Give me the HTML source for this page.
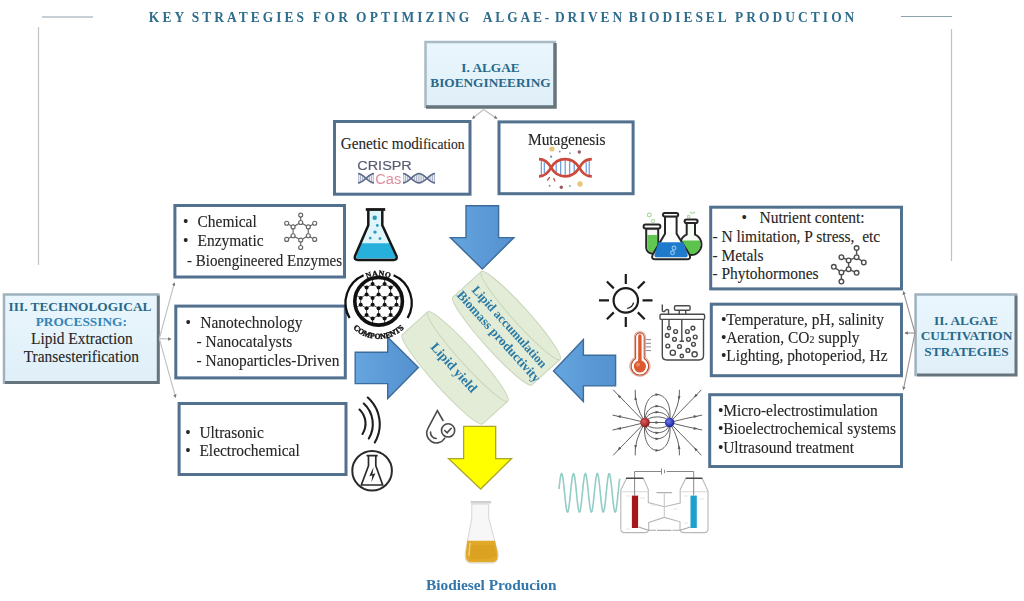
<!DOCTYPE html>
<html><head><meta charset="utf-8">
<style>
html,body{margin:0;padding:0;background:#fff;width:1024px;height:601px;overflow:hidden}
svg{display:block;filter:blur(0.3px)}
text{font-family:"Liberation Serif",serif}
.t{font-size:15.75px;fill:#262626;stroke:#262626;stroke-width:0.12px}
.hb{font-weight:bold;fill:#28698a}
.ttl{font-weight:bold;font-size:14px;fill:#2e6c8c}
.bx{fill:#fff;stroke:#52718f;stroke-width:3}
.con{stroke:#bdbdbd;stroke-width:1.1;fill:none}
</style></head>
<body>
<svg width="1024" height="601" viewBox="0 0 1024 601">
<defs>
 <marker id="ah" viewBox="0 0 6 6" refX="5" refY="3" markerWidth="3.2" markerHeight="3.2" orient="auto"><path d="M0 0 L6 3 L0 6 Z" fill="#777"/></marker>
 <linearGradient id="bevfill" x1="0" y1="0" x2="0" y2="1">
  <stop offset="0" stop-color="#eaf6fd"/><stop offset="1" stop-color="#dfeff8"/>
 </linearGradient>
 <linearGradient id="arrowg" x1="0" y1="0" x2="1" y2="0">
  <stop offset="0" stop-color="#66a6e0"/><stop offset="0.5" stop-color="#5b9ad6"/><stop offset="1" stop-color="#5592d0"/>
 </linearGradient>
</defs>

<!-- frame lines -->
<line x1="42" y1="17" x2="93" y2="17" stroke="#8ea2ae" stroke-width="1.2"/>
<line x1="901" y1="16.5" x2="952" y2="16.5" stroke="#8ea2ae" stroke-width="1.2"/>
<line x1="38.5" y1="27" x2="38.5" y2="265" stroke="#c4c4c4" stroke-width="1.2"/>
<line x1="951.5" y1="29" x2="951.5" y2="261" stroke="#b8c4cc" stroke-width="1.2"/>

<!-- title -->
<g class="ttl">
<text transform="translate(148.79999999999998 21.6) scale(0.96 1)" textLength="37.0" lengthAdjust="spacing">KEY</text>
<text transform="translate(191.79999999999998 21.6) scale(0.96 1)" textLength="116.8" lengthAdjust="spacing">STRATEGIES</text>
<text transform="translate(312.8 21.6) scale(0.96 1)" textLength="36.6" lengthAdjust="spacing">FOR</text>
<text transform="translate(356.1 21.6) scale(0.96 1)" textLength="117.9" lengthAdjust="spacing">OPTIMIZING</text>
<text transform="translate(482.8 21.6) scale(0.96 1)" textLength="69.3" lengthAdjust="spacing">ALGAE-</text>
<text transform="translate(554.9 21.6) scale(0.96 1)" textLength="70.0" lengthAdjust="spacing">DRIVEN</text>
<text transform="translate(628.8000000000001 21.6) scale(0.96 1)" textLength="102.1" lengthAdjust="spacing">BIODIESEL</text>
<text transform="translate(735.1 21.6) scale(0.96 1)" textLength="124.2" lengthAdjust="spacing">PRODUCTION</text>
</g>

<!-- BOX I -->
<g>
 <rect x="425.5" y="42" width="130.5" height="66" fill="url(#bevfill)"/>
 <path d="M425.5 108 V42 H556" fill="none" stroke="#a9bac4" stroke-width="2.5"/>
 <path d="M555 43 V107 H426" fill="none" stroke="#66757c" stroke-width="3.5"/>
 <text class="hb" x="490.5" y="71.9" font-size="13.3" text-anchor="middle">I. ALGAE</text>
 <text class="hb" x="490.5" y="87" font-size="13.3" text-anchor="middle">BIOENGINEERING</text>
</g>
<path class="con" d="M483.5 109.5 L472.5 118.5" marker-end="url(#ah)"/><path class="con" d="M483.5 109.5 L497 118.5" marker-end="url(#ah)"/>

<!-- Genetic modification box -->
<rect class="bx" x="334.5" y="121.5" width="135.5" height="72.7"/>
<text transform="translate(340.8 148.6) scale(0.965 1)" class="t"  >Genetic modi<tspan font-size="14.1">fication</tspan></text>
<g id="crispr">
 <text x="357.3" y="170" style="font-family:'Liberation Sans',sans-serif" font-size="13.4" fill="#565b6f" stroke="#565b6f" stroke-width="0.15" textLength="54.5" lengthAdjust="spacingAndGlyphs">CRISPR</text>
 <text x="375.3" y="183.8" style="font-family:'Liberation Sans',sans-serif" font-size="15.3" fill="#df8f9e" textLength="26" lengthAdjust="spacingAndGlyphs">Cas</text>
</g>

<!-- Mutagenesis box -->
<rect class="bx" x="499" y="121.9" width="134.1" height="71.8"/>
<text transform="translate(528.0 145.0) scale(0.982 1)" class="t"   textLength="79" lengthAdjust="spacing">Mutagenesis</text>

<!-- Left boxes -->
<rect class="bx" x="174.9" y="205.5" width="169.6" height="71.5"/>
<rect class="bx" x="175.8" y="306.1" width="169.5" height="71.8"/>
<rect class="bx" x="179.1" y="403.5" width="166.9" height="71"/>
<g class="t">
 <text transform="translate(183.0 227.0) scale(0.982 1)"  >•</text><text transform="translate(197.5 227.0) scale(0.982 1)"  >Chemical</text>
 <text transform="translate(183.0 245.5) scale(0.982 1)"  >•</text><text transform="translate(197.5 245.5) scale(0.982 1)"  >Enzymatic</text>
 <text transform="translate(187.0 265.5) scale(0.955 1)"  >- Bioengineered Enzymes</text>
 <text transform="translate(185.5 328.0) scale(0.982 1)"  >•</text><text transform="translate(200.3 328.0) scale(0.982 1)"  >Nanotechnology</text>
 <text transform="translate(196.5 346.6) scale(0.982 1)"  >- Nanocatalysts</text>
 <text transform="translate(196.5 365.5) scale(0.982 1)"  >- Nanoparticles-Driven</text>
 <text transform="translate(185.3 437.5) scale(0.982 1)"  >•</text><text transform="translate(199.4 437.5) scale(0.982 1)"  >Ultrasonic</text>
 <text transform="translate(185.3 456.0) scale(0.982 1)"  >•</text><text transform="translate(199.4 456.0) scale(0.982 1)"  >Electrochemical</text>
</g>

<!-- BOX III -->
<g>
 <rect x="4" y="294.4" width="155.6" height="89.6" fill="url(#bevfill)"/>
 <path d="M4 384 V294.4 H159.6" fill="none" stroke="#9fb2bd" stroke-width="2.5"/>
 <path d="M158.3 295.5 V382.5 H5" fill="none" stroke="#66757c" stroke-width="3"/>
 <text class="hb" x="80" y="311.2" font-size="13.35" text-anchor="middle">III. TECHNOLOGICAL</text>
 <text class="hb" x="81.3" y="325.7" font-size="13.35" text-anchor="middle" style="fill:#3585b8">PROCESSING:</text>
 <text transform="translate(81.8 344.3) scale(0.982 1)" class="t"   text-anchor="middle">Lipid Extraction</text>
 <text transform="translate(81.3 362.0) scale(0.982 1)" class="t"   text-anchor="middle">Transesterification</text>
</g>
<g class="con">
 <path d="M159.3 338.6 L174.4 282.8" marker-end="url(#ah)"/>
 <path d="M159.3 338.6 L171 339" marker-end="url(#ah)"/>
 <path d="M159.3 338.6 L175.6 397.4" marker-end="url(#ah)"/>
</g>

<!-- Right boxes -->
<rect class="bx" x="710.7" y="207.2" width="190.8" height="81.7"/>
<rect class="bx" x="711.3" y="304.2" width="190.2" height="71.5"/>
<rect class="bx" x="709.7" y="394.7" width="191.8" height="71.8"/>
<g class="t">
 <text transform="translate(741.5 223.0) scale(0.982 1)"  >•</text><text transform="translate(759.5 223.0) scale(0.982 1)"  >Nutrient content:</text>
 <text transform="translate(712.5 241.6) scale(0.982 1)"  >- N limitation, P stress, <tspan dx="4">etc</tspan></text>
 <text transform="translate(712.5 261.1) scale(0.982 1)"  >- Metals</text>
 <text transform="translate(712.5 279.2) scale(0.982 1)"  >- Phytohormones</text>
 <text transform="translate(721.0 325.3) scale(0.982 1)"  >•</text><text transform="translate(726.2 325.3) scale(0.982 1)"  >Temperature, pH, salinity</text>
 <text transform="translate(721.0 343.0) scale(0.982 1)"  >•</text><text transform="translate(726.2 343.0) scale(0.982 1)"  >Aeration, CO<tspan font-size="10">2</tspan> supply</text>
 <text transform="translate(721.0 360.8) scale(0.982 1)"  >•</text><text transform="translate(726.2 360.8) scale(0.982 1)"  >Lighting, photoperiod, Hz</text>
 <text transform="translate(718.0 415.8) scale(0.982 1)"  >•</text><text transform="translate(723.2 415.8) scale(0.982 1)"  >Micro-electrostimulation</text>
 <text transform="translate(718.0 434.2) scale(0.982 1)"  >•</text><text transform="translate(723.2 434.2) scale(0.982 1)"  >Bioelectrochemical systems</text>
 <text transform="translate(718.0 452.7) scale(0.982 1)"  >•</text><text transform="translate(723.2 452.7) scale(0.982 1)"  >Ultrasound treatment</text>
</g>

<!-- BOX II -->
<g>
 <rect x="915.6" y="294.4" width="101.8" height="81.9" fill="url(#bevfill)"/>
 <path d="M915.6 376.3 V294.4 H1017.4" fill="none" stroke="#9fb2bd" stroke-width="2.5"/>
 <path d="M1016 295.5 V375 H917" fill="none" stroke="#66757c" stroke-width="3"/>
 <text class="hb" x="966" y="324.6" font-size="13.35" text-anchor="middle">II. ALGAE</text>
 <text class="hb" x="966.5" y="340.2" font-size="13.35" text-anchor="middle">CULTIVATION</text>
 <text class="hb" x="966.5" y="355.8" font-size="13.35" text-anchor="middle">STRATEGIES</text>
</g>
<g class="con" style="stroke:#9a9090">
 <path d="M915 333 L903.4 291.6" marker-end="url(#ah)"/>
 <path d="M915 333 L905 333" marker-end="url(#ah)"/>
 <path d="M915 333 L903.4 389.6" marker-end="url(#ah)"/>
</g>

<!-- Arrows -->
<g fill="url(#arrowg)" stroke="#3e6c9a" stroke-width="1.4" stroke-linejoin="miter">
 <path d="M466 205.7 H498.6 V237.6 H513.9 L482.3 269 L450.4 237.6 H466 Z"/>
 <path d="M355.2 352.2 H387.7 V337.2 L418.4 367.6 L387.7 398.6 V383.6 H355.2 Z"/>
 <path d="M615.6 355.2 H583.4 V339.5 L553.5 371 L583.4 401.6 V385.9 H615.6 Z"/>
</g>
<path d="M463.6 426.3 H495.7 V458.6 H511.5 L480.7 489 L448.6 458.6 H463.6 Z" fill="#ffff00" stroke="#aaa428" stroke-width="1.3"/>

<!-- Cans -->
<g transform="translate(506.5 328.25) rotate(48)">
 <path d="M-59 -19 A59 8 0 0 1 59 -19 V19 A59 8 0 0 1 -59 19 Z" fill="#e3ecd6" stroke="#c9d6bb" stroke-width="1"/>
 <path d="M-59 -19 A59 8 0 0 0 59 -19" fill="none" stroke="#c9d6bb" stroke-width="1"/>
 <text class="hb" x="1" y="0.8" font-size="12.6" text-anchor="middle" style="fill:#2a7aa6">Lipid accumulation</text>
 <text class="hb" x="1" y="15.5" font-size="13" text-anchor="middle" style="fill:#2a7aa6">Biomass productivity</text>
</g>
<g transform="translate(455.1 367.9) rotate(48)">
 <path d="M-60 -17 A60 8 0 0 1 60 -17 V17 A60 8 0 0 1 -60 17 Z" fill="#e3ecd6" stroke="#c9d6bb" stroke-width="1"/>
 <path d="M-60 -17 A60 8 0 0 0 60 -17" fill="none" stroke="#c9d6bb" stroke-width="1"/>
 <text class="hb" x="-1" y="5" font-size="13.3" text-anchor="middle" style="fill:#2a7aa6">Lipid yield</text>
</g>

<!-- Biodiesel -->
<text class="hb" x="491.3" y="589.8" font-size="15.35" text-anchor="middle" style="fill:#3277ac">Biodiesel Producion</text>

<g fill="#fff" stroke="#666" stroke-width="1.15"><path fill="none" d="M300.7 222.5 L308.3 226.9 L308.3 235.7 L300.7 240.1 L293.1 235.7 L293.1 226.9ZM300.7 222.5L300.7 215.1M308.3 226.9L314.7 223.2M308.3 235.7L314.7 239.4M300.7 240.1L300.7 247.5M293.1 235.7L286.7 239.4M293.1 226.9L286.7 223.2"/><circle cx="300.7" cy="222.5" r="2.0"/><circle cx="308.3" cy="226.9" r="2.0"/><circle cx="308.3" cy="235.7" r="2.0"/><circle cx="300.7" cy="240.1" r="2.0"/><circle cx="293.1" cy="235.7" r="2.0"/><circle cx="293.1" cy="226.9" r="2.0"/><circle cx="300.7" cy="215.1" r="2.0"/><circle cx="314.7" cy="223.2" r="2.0"/><circle cx="314.7" cy="239.4" r="2.0"/><circle cx="300.7" cy="247.5" r="2.0"/><circle cx="286.7" cy="239.4" r="2.0"/><circle cx="286.7" cy="223.2" r="2.0"/></g>
<g fill="#fff" stroke="#4e4e4e" stroke-width="1.4"><path fill="none" d="M856.6 248L856.6 257.2M856.6 257.2L863.8 262.4M856.6 257.2L848.6 260.4M848.6 260.4L841.4 257.2M848.6 260.4L848.6 269.2M848.6 269.2L856.6 272.8M848.6 269.2L841.4 272.4M841.4 272.4L833.8 266.8M841.4 272.4L841.4 281.6"/><circle cx="856.6" cy="248" r="2.3"/><circle cx="856.6" cy="257.2" r="2.3"/><circle cx="863.8" cy="262.4" r="2.3"/><circle cx="848.6" cy="260.4" r="2.3"/><circle cx="841.4" cy="257.2" r="2.3"/><circle cx="848.6" cy="269.2" r="2.3"/><circle cx="856.6" cy="272.8" r="2.3"/><circle cx="841.4" cy="272.4" r="2.3"/><circle cx="833.8" cy="266.8" r="2.3"/><circle cx="841.4" cy="281.6" r="2.3"/></g>
<clipPath id="nclip"><circle cx="378.6" cy="301.3" r="22.6"/></clipPath><g clip-path="url(#nclip)"><path d="M384.6 277.1L390.6 273.7M342.8 287.5L342.8 294.4M390.6 266.8L390.6 273.7M378.6 315.1L384.6 318.6M372.6 339.2L372.6 346.1M378.6 308.2L378.6 315.1M366.6 349.6L372.6 346.1M420.4 339.2L426.4 335.8M354.7 308.2L354.7 315.1M324.8 304.8L330.8 308.2M426.4 349.6L432.4 346.1M420.4 277.1L420.4 284.1M348.7 277.1L348.7 284.1M414.4 328.9L420.4 325.4M414.4 328.9L414.4 335.8M384.6 263.4L390.6 266.8M366.6 273.7L372.6 277.1M426.4 266.8L426.4 273.7M324.8 318.6L324.8 325.4M390.6 328.9L396.5 325.4M348.7 304.8L354.7 308.2M426.4 287.5L426.4 294.4M372.6 277.1L372.6 284.1M354.7 253.0L360.7 256.4M420.4 284.1L426.4 287.5M390.6 308.2L396.5 304.8M336.8 277.1L336.8 284.1M324.8 297.9L330.8 294.4M408.5 297.9L408.5 304.8M324.8 297.9L324.8 304.8M360.7 325.4L366.6 328.9M378.6 328.9L384.6 325.4M390.6 335.8L396.5 339.2M396.5 339.2L396.5 346.1M402.5 349.6L408.5 346.1M396.5 263.4L402.5 266.8M336.8 256.4L336.8 263.4M426.4 253.0L432.4 256.4M360.7 318.6L360.7 325.4M414.4 287.5L414.4 294.4M348.7 339.2L354.7 335.8M372.6 325.4L378.6 328.9M372.6 297.9L378.6 294.4M396.5 256.4L396.5 263.4M390.6 266.8L396.5 263.4M372.6 277.1L378.6 273.7M408.5 256.4L408.5 263.4M348.7 325.4L354.7 328.9M360.7 318.6L366.6 315.1M390.6 328.9L390.6 335.8M378.6 266.8L378.6 273.7M330.8 266.8L330.8 273.7M336.8 304.8L342.8 308.2M432.4 256.4L432.4 263.4M420.4 339.2L420.4 346.1M348.7 318.6L354.7 315.1M360.7 263.4L366.6 266.8M372.6 304.8L378.6 308.2M378.6 273.7L384.6 277.1M378.6 287.5L378.6 294.4M408.5 297.9L414.4 294.4M366.6 266.8L372.6 263.4M360.7 339.2L366.6 335.8M432.4 297.9L432.4 304.8M372.6 256.4L378.6 253.0M432.4 318.6L438.4 315.1M372.6 256.4L372.6 263.4M330.8 328.9L330.8 335.8M420.4 256.4L426.4 253.0M342.8 308.2L348.7 304.8M324.8 325.4L330.8 328.9M420.4 346.1L426.4 349.6M390.6 253.0L396.5 256.4M396.5 304.8L402.5 308.2M390.6 308.2L390.6 315.1M408.5 277.1L414.4 273.7M378.6 308.2L384.6 304.8M366.6 308.2L372.6 304.8M402.5 287.5L408.5 284.1M342.8 328.9L342.8 335.8M360.7 297.9L360.7 304.8M330.8 328.9L336.8 325.4M336.8 297.9L336.8 304.8M366.6 335.8L372.6 339.2M348.7 277.1L354.7 273.7M384.6 284.1L390.6 287.5M438.4 328.9L438.4 335.8M432.4 339.2L432.4 346.1M336.8 263.4L342.8 266.8M330.8 287.5L330.8 294.4M348.7 297.9L348.7 304.8M348.7 346.1L354.7 349.6M330.8 287.5L336.8 284.1M396.5 256.4L402.5 253.0M342.8 266.8L342.8 273.7M384.6 304.8L390.6 308.2M432.4 304.8L438.4 308.2M438.4 308.2L438.4 315.1M348.7 318.6L348.7 325.4M342.8 335.8L348.7 339.2M342.8 253.0L348.7 256.4M402.5 266.8L408.5 263.4M378.6 287.5L384.6 284.1M360.7 346.1L366.6 349.6M366.6 287.5L372.6 284.1M330.8 294.4L336.8 297.9M360.7 277.1L366.6 273.7M396.5 297.9L396.5 304.8M414.4 308.2L414.4 315.1M324.8 346.1L330.8 349.6M336.8 256.4L342.8 253.0M366.6 294.4L372.6 297.9M390.6 349.6L396.5 346.1M414.4 266.8L420.4 263.4M408.5 277.1L408.5 284.1M354.7 294.4L360.7 297.9M402.5 308.2L402.5 315.1M414.4 349.6L420.4 346.1M342.8 266.8L348.7 263.4M426.4 273.7L432.4 277.1M420.4 256.4L420.4 263.4M396.5 318.6L402.5 315.1M390.6 294.4L396.5 297.9M402.5 335.8L408.5 339.2M396.5 277.1L402.5 273.7M432.4 325.4L438.4 328.9M426.4 315.1L432.4 318.6M330.8 253.0L336.8 256.4M372.6 318.6L372.6 325.4M360.7 256.4L366.6 253.0M414.4 308.2L420.4 304.8M330.8 266.8L336.8 263.4M402.5 273.7L408.5 277.1M354.7 315.1L360.7 318.6M384.6 318.6L390.6 315.1M408.5 318.6L414.4 315.1M366.6 253.0L372.6 256.4M402.5 315.1L408.5 318.6M324.8 318.6L330.8 315.1M354.7 328.9L360.7 325.4M336.8 339.2L342.8 335.8M330.8 273.7L336.8 277.1M348.7 284.1L354.7 287.5M384.6 325.4L390.6 328.9M408.5 325.4L414.4 328.9M354.7 287.5L354.7 294.4M426.4 335.8L432.4 339.2M432.4 277.1L438.4 273.7M336.8 339.2L336.8 346.1M348.7 297.9L354.7 294.4M372.6 339.2L378.6 335.8M354.7 266.8L354.7 273.7M372.6 297.9L372.6 304.8M426.4 328.9L432.4 325.4M414.4 335.8L420.4 339.2M408.5 339.2L414.4 335.8M426.4 328.9L426.4 335.8M414.4 266.8L414.4 273.7M414.4 287.5L420.4 284.1M360.7 339.2L360.7 346.1M384.6 339.2L390.6 335.8M414.4 294.4L420.4 297.9M426.4 266.8L432.4 263.4M384.6 256.4L390.6 253.0M408.5 304.8L414.4 308.2M330.8 308.2L330.8 315.1M384.6 277.1L384.6 284.1M354.7 328.9L354.7 335.8M360.7 284.1L366.6 287.5M330.8 335.8L336.8 339.2M372.6 318.6L378.6 315.1M402.5 253.0L408.5 256.4M438.4 266.8L438.4 273.7M324.8 263.4L330.8 266.8M348.7 263.4L354.7 266.8M420.4 318.6L420.4 325.4M324.8 256.4L330.8 253.0M348.7 256.4L354.7 253.0M336.8 318.6L342.8 315.1M324.8 256.4L324.8 263.4M378.6 294.4L384.6 297.9M354.7 349.6L360.7 346.1M372.6 284.1L378.6 287.5M378.6 253.0L384.6 256.4M402.5 328.9L408.5 325.4M414.4 253.0L420.4 256.4M402.5 308.2L408.5 304.8M360.7 277.1L360.7 284.1M336.8 318.6L336.8 325.4M402.5 266.8L402.5 273.7M366.6 266.8L366.6 273.7M324.8 339.2L330.8 335.8M414.4 273.7L420.4 277.1M396.5 284.1L402.5 287.5M396.5 346.1L402.5 349.6M348.7 339.2L348.7 346.1M324.8 339.2L324.8 346.1M384.6 318.6L384.6 325.4M432.4 297.9L438.4 294.4M330.8 308.2L336.8 304.8M366.6 315.1L372.6 318.6M378.6 349.6L384.6 346.1M420.4 304.8L426.4 308.2M342.8 315.1L348.7 318.6M396.5 297.9L402.5 294.4M342.8 294.4L348.7 297.9M408.5 263.4L414.4 266.8M402.5 328.9L402.5 335.8M408.5 256.4L414.4 253.0M432.4 284.1L438.4 287.5M372.6 346.1L378.6 349.6M324.8 277.1L324.8 284.1M426.4 287.5L432.4 284.1M390.6 287.5L396.5 284.1M420.4 297.9L426.4 294.4M336.8 284.1L342.8 287.5M354.7 308.2L360.7 304.8M390.6 315.1L396.5 318.6M396.5 318.6L396.5 325.4M372.6 263.4L378.6 266.8M354.7 335.8L360.7 339.2M384.6 346.1L390.6 349.6M366.6 287.5L366.6 294.4M438.4 287.5L438.4 294.4M360.7 256.4L360.7 263.4M354.7 273.7L360.7 277.1M378.6 266.8L384.6 263.4M336.8 297.9L342.8 294.4M324.8 277.1L330.8 273.7M378.6 335.8L384.6 339.2M420.4 263.4L426.4 266.8M342.8 308.2L342.8 315.1M342.8 273.7L348.7 277.1M342.8 287.5L348.7 284.1M420.4 318.6L426.4 315.1M354.7 287.5L360.7 284.1M390.6 273.7L396.5 277.1M402.5 287.5L402.5 294.4M336.8 325.4L342.8 328.9M426.4 294.4L432.4 297.9M336.8 277.1L342.8 273.7M366.6 328.9L372.6 325.4M408.5 284.1L414.4 287.5M396.5 339.2L402.5 335.8M336.8 346.1L342.8 349.6M432.4 318.6L432.4 325.4M354.7 266.8L360.7 263.4M348.7 256.4L348.7 263.4M426.4 308.2L426.4 315.1M390.6 287.5L390.6 294.4M384.6 297.9L384.6 304.8M360.7 304.8L366.6 308.2M402.5 294.4L408.5 297.9M414.4 315.1L420.4 318.6M420.4 297.9L420.4 304.8M420.4 325.4L426.4 328.9M408.5 339.2L408.5 346.1M366.6 328.9L366.6 335.8M342.8 349.6L348.7 346.1M408.5 318.6L408.5 325.4M360.7 297.9L366.6 294.4M378.6 328.9L378.6 335.8M426.4 308.2L432.4 304.8M330.8 349.6L336.8 346.1M432.4 263.4L438.4 266.8M384.6 339.2L384.6 346.1M330.8 315.1L336.8 318.6M342.8 328.9L348.7 325.4M432.4 277.1L432.4 284.1M432.4 339.2L438.4 335.8M420.4 277.1L426.4 273.7M324.8 284.1L330.8 287.5M396.5 277.1L396.5 284.1M408.5 346.1L414.4 349.6M396.5 325.4L402.5 328.9M384.6 297.9L390.6 294.4M384.6 256.4L384.6 263.4M366.6 308.2L366.6 315.1" stroke="#111" stroke-width="0.75" fill="none"/><g fill="#111"><circle cx="384.6" cy="304.8" r="2"/><circle cx="378.6" cy="308.2" r="2"/><circle cx="390.6" cy="294.4" r="2"/><circle cx="378.6" cy="315.1" r="2"/><circle cx="366.6" cy="287.5" r="2"/><circle cx="372.6" cy="304.8" r="2"/><circle cx="360.7" cy="297.9" r="2"/><circle cx="366.6" cy="308.2" r="2"/><circle cx="378.6" cy="294.4" r="2"/><circle cx="366.6" cy="315.1" r="2"/><circle cx="396.5" cy="297.9" r="2"/><circle cx="366.6" cy="294.4" r="2"/><circle cx="384.6" cy="284.1" r="2"/><circle cx="384.6" cy="297.9" r="2"/><circle cx="360.7" cy="304.8" r="2"/><circle cx="390.6" cy="287.5" r="2"/><circle cx="372.6" cy="318.6" r="2"/><circle cx="372.6" cy="284.1" r="2"/><circle cx="384.6" cy="318.6" r="2"/><circle cx="372.6" cy="297.9" r="2"/><circle cx="396.5" cy="304.8" r="2"/><circle cx="390.6" cy="308.2" r="2"/><circle cx="390.6" cy="315.1" r="2"/><circle cx="378.6" cy="287.5" r="2"/></g></g>
<g fill="none" stroke="#5d6a8c" stroke-width="1.7"><path d="M358.0 173.7 C363.8 173.7 368.2 182.9 374.0 182.9"/><path d="M358.0 182.9 C363.8 182.9 368.2 173.7 374.0 173.7"/><path d="M403.0 173.7 C408.8 173.7 413.2 182.9 419.0 182.9 C424.8 182.9 429.2 173.7 435.0 173.7"/><path d="M403.0 182.9 C408.8 182.9 413.2 173.7 419.0 173.7 C424.8 173.7 429.2 182.9 435.0 182.9"/></g>
<path fill="none" stroke="#7f8bab" stroke-width="0.7" d="M358.8 174.6V182.0M360.6 175.1V181.5M362.4 176.1V180.5M364.2 177.5V179.1M367.8 177.5V179.1M369.6 176.1V180.5M371.4 175.1V181.5M373.2 174.6V182.0M403.8 174.6V182.0M405.6 175.1V181.5M407.4 176.1V180.5M409.2 177.5V179.1M412.8 177.5V179.1M414.6 176.1V180.5M416.4 175.1V181.5M418.2 174.6V182.0M420.0 174.6V182.0M421.8 175.2V181.4M423.6 176.3V180.3M429.0 177.3V179.3M430.8 176.0V180.6M432.6 175.0V181.6M434.4 174.5V182.1"/>
<!-- Mutagenesis DNA -->
<g fill="none">
 <path stroke="#5b8fd8" stroke-width="1.1" d="M541.3 160.5V175M544.3 162.5V173M556.2 163.5V172M560.7 160V175.5M565.2 159.5V176M569.7 160V175.5M574.2 163.5V172M586.2 162.5V173M589.2 160.5V175"/>
 <path stroke="#cc4a3c" stroke-width="2.7" d="M539 159.2 C546 159.2 549 164 551.1 167.7 C554 173 559 176.3 565.2 176.3 C571 176.3 576 173 579.3 167.7 C581.5 164 584.5 159.2 591.8 159.2"/>
 <path stroke="#cc4a3c" stroke-width="2.7" d="M539 176.3 C546 176.3 549 171.5 551.1 167.7 C554 162.5 559 159.2 565.2 159.2 C571 159.2 576 162.5 579.3 167.7 C581.5 171.5 584.5 176.3 591.8 176.3"/>
 <path stroke="#b85a50" stroke-width="1.3" stroke-linecap="round" d="M547.5 180L549.5 177.5M553.8 178.5L554.8 181"/>
</g>
<g>
 <circle cx="552" cy="149" r="2.6" fill="#e8c878"/>
 <circle cx="559.7" cy="151.6" r="1" fill="#8a9aaa"/>
 <circle cx="569.9" cy="153.2" r="1" fill="#8ab0a8"/>
 <circle cx="579.3" cy="152" r="1.7" fill="#9a5a60"/>
 <circle cx="551.1" cy="156.7" r="1.1" fill="#6a90b8"/>
 <circle cx="549.6" cy="185.7" r="1" fill="#909090"/>
 <circle cx="561.3" cy="187.2" r="1.7" fill="#9a5a60"/>
 <circle cx="569.9" cy="186" r="1" fill="#8ab0a8"/>
 <circle cx="580" cy="184" r="2.7" fill="#e8c878"/>
</g>

<!-- blue flask -->
<g>
 <path d="M368.8 211 V225.5 L355.5 256 Q354.5 259.6 358 259.6 H393.5 Q397 259.6 396 256 L381.8 225.5 V211 Z" fill="#dff4fb"/>
 <path d="M361.5 243.3 H389.6 L395.5 256.5 Q396 258.5 393.5 258.5 H358 Q355.5 258.5 356.2 256.5 Z" fill="#27b0dc"/>
 <path d="M368.3 210.5 V225.3 L355 256 Q353.8 259.9 358 259.9 H393.5 Q397.7 259.9 396.5 256 L382.3 225.3 V210.5" fill="none" stroke="#161616" stroke-width="2.5" stroke-linejoin="round"/>
 <path d="M365.8 209.5 H385.2" stroke="#161616" stroke-width="2.8"/>
 <g fill="#2a9ab8"><circle cx="374.7" cy="217.7" r="2.2"/><circle cx="377.3" cy="225.5" r="1.4"/><circle cx="375" cy="232.1" r="1.7"/><circle cx="370.2" cy="238.1" r="1.4"/><circle cx="380" cy="238.6" r="1.4"/></g>
</g>

<!-- nano outer -->
<g fill="none" stroke="#111">
 <circle cx="378.6" cy="301.3" r="23.8" stroke-width="3.6"/>
 <path stroke-width="2.3" d="M363.6 275.3 A30 30 0 0 0 349.6 318"/>
 <path stroke-width="2.3" d="M393.6 275.3 A30 30 0 0 1 407.6 318"/>
</g>
<path id="arcTop" d="M354.8 289 A28 28 0 0 1 402.4 289" fill="none"/>
<path id="arcBot" d="M343.3 310 A36 36 0 0 0 413.9 310" fill="none"/>
<text font-size="7.6" font-weight="bold" fill="#111" stroke="#111" stroke-width="0.35" letter-spacing="0.4"><textPath href="#arcTop" startOffset="50%" text-anchor="middle">NANO</textPath></text>
<text font-size="7.8" font-weight="bold" fill="#111" stroke="#111" stroke-width="0.45" letter-spacing="0.1"><textPath href="#arcBot" startOffset="50%" text-anchor="middle">COMPONENTS</textPath></text>
<!-- sound waves -->
<g fill="none" stroke="#1e1e1e" stroke-width="2.1" stroke-linecap="round">
 <path d="M359.5 409.5 A19.5 19.5 0 0 1 362.5 434"/>
 <path d="M363.8 403.5 A28 28 0 0 1 368.8 438.5"/>
 <path d="M367.8 397.5 A36 36 0 0 1 374.8 442.5"/>
</g>

<!-- flask bolt -->
<g fill="none" stroke="#2a2a2a" stroke-width="1.7" stroke-linejoin="round">
 <circle cx="372.1" cy="470.8" r="19.8" stroke-width="2"/>
 <path d="M366.5 455.6 H377.7 M368.5 455.6 V465.8 L361.3 485 H382.7 L375.8 465.8 V455.6"/>
</g>
<path d="M373.6 467 L369.3 476.3 L372.4 475.3 L371.4 482.3 L375.4 473.2 L372.4 474.2 Z" fill="#222"/>

<!-- drop check -->
<g fill="none" stroke="#4a4a4a" stroke-width="1.6" stroke-linecap="round">
 <path d="M443 420.5 L437.4 410.7 L428.1 428.2 A9.2 9.2 0 0 0 444.6 438.3"/>
 <path d="M430.5 432 A6.2 6.2 0 0 0 436.2 438.5"/>
 <circle cx="448.1" cy="430.4" r="6.6"/>
 <path d="M444.7 430.5 L447.1 432.8 L451.2 428.3"/>
</g>

<!-- biodiesel flask -->
<g>
 <path d="M471.8 504 V518 L465.2 553 Q464.5 563 470 563 H493 Q498.8 563 498 553 L488.7 518 V504 Z" fill="#f7f7f7" stroke="#d6d6d6" stroke-width="1"/>
 <path d="M470.6 502.2 H491.2" stroke="#d0d0d0" stroke-width="2.5"/>
 <path d="M467.3 540.8 H495 L497.6 553 Q498.4 562.2 493 562.2 H470 Q465.3 562.2 465.8 553 Z" fill="#e1a92a"/>
 <path d="M468 545 H494 L496.5 556 Q490 560 470 559 Z" fill="#d9a020" opacity="0.7"/>
 <path d="M470 543 L469 556" stroke="#f5d690" stroke-width="1.5" opacity="0.8"/>
</g>

<!-- trio flasks -->
<g stroke="#262626" stroke-width="2" stroke-linejoin="round">
 <!-- test tube -->
 <path d="M646.2 228.5 V247.5 A6 6 0 0 0 658.2 247.5 V228.5 Z" fill="#f6fbf4"/>
 <path d="M647.3 235 H657.1 V247.5 A4.9 4.9 0 0 1 647.3 247.5 Z" fill="#62c652" stroke="none"/>
 <rect x="643.6" y="224.6" width="16.8" height="3.9" rx="1.9" fill="#fff"/>
 <!-- round flask -->
 <path d="M686.7 223 V234.6 A10.6 10.6 0 1 0 695 234.6 V223 Z" fill="#f6fbf4"/>
 <path d="M682.1 240.5 H699.6 A9.6 9.6 0 1 1 682.1 240.5 Z" fill="#5cc44c" stroke="none"/>
 <rect x="684.6" y="219.5" width="13" height="3.6" rx="1.8" fill="#fff"/>
 <!-- erlenmeyer -->
 <path d="M665 216.2 V233.8 L652.6 254.8 Q650.8 259.3 655.4 259.3 H686.8 Q691.4 259.3 689.6 254.8 L676.6 233.8 V216.2 Z" fill="#fff"/>
 <path d="M658.5 242.2 H683.6 L687.6 254.6 Q688.3 257.3 685.6 257.3 H656.6 Q653.9 257.3 654.6 254.6 Z" fill="#1f7acb" stroke="none"/>
 <rect x="663" y="213" width="15.2" height="3.4" rx="1.7" fill="#fff"/>
</g>
<g fill="none" stroke="#8cc8ee" stroke-width="1.1"><circle cx="674" cy="248" r="1.9"/><circle cx="672.5" cy="252.8" r="1.9"/><path d="M673.5 250 L672.8 251"/></g>
<g fill="none" stroke="#a8d8a0" stroke-width="1.1"><circle cx="649.3" cy="215" r="1.9"/><circle cx="653" cy="221" r="1.5"/><path d="M690 212 q2.5 2.5 5 0"/><circle cx="688.6" cy="216.5" r="1.2"/></g>
<!-- sun -->
<g fill="none" stroke="#1c1c1c" stroke-width="2.2">
 <circle cx="625.8" cy="300.4" r="12.2"/>
 <path d="M625.8 274 V284 M625.8 317 V327 M599 300.4 H609 M642.5 300.4 H652.5 M606.9 281.5 L613.8 288.4 M637.8 312.4 L644.7 319.3 M644.7 281.5 L637.8 288.4 M613.8 312.4 L606.9 319.3"/>
 <path stroke-width="1.3" d="M633.6 302.6 A8 8 0 0 1 627.2 308.4"/>
</g>

<!-- thermometer -->
<g>
 <path d="M634.4 337 A5.5 5.5 0 0 1 645.4 337 V357.6 A10.1 10.1 0 1 1 634.4 357.6 Z" fill="#fff" stroke="#e6a896" stroke-width="1.1"/>
 <path d="M635.6 337.2 A4.3 4.3 0 0 1 644.2 337.2 V358.5 A8.8 8.8 0 1 1 635.6 358.5 Z" fill="none" stroke="#b9503a" stroke-width="1.1"/>
 <path d="M638.2 336 A1.7 1.7 0 0 1 641.6 336 V360.5 A6.1 6.1 0 1 1 638.2 360.5 Z" fill="#dd5a30"/><circle cx="638" cy="364.5" r="2" fill="#f39a70" opacity="0.7"/>
 <path d="M645.8 339.6 H651 M645.8 343.3 H651 M645.8 346.9 H651 M645.8 350.6 H651" stroke="#8a8a8a" stroke-width="1"/>
</g>

<!-- bioreactor -->
<g fill="none" stroke="#4a4a4a" stroke-width="1.4">
 <path d="M662.3 319.5 V355.5 Q662.3 360 666.8 360 H699 Q703.5 360 703.5 355.5 V319.5"/>
 <rect x="660" y="314.2" width="44.6" height="5.2" rx="1.2"/>
 <rect x="674.5" y="305.8" width="15.6" height="4.5" rx="1.2"/>
 <path d="M679.2 310.3 V314.2 M685.7 310.3 V314.2"/>
 <path d="M662.3 304.5 V310 Q662.3 312 664.5 311.5 Q666.5 308.5 668.5 310 V314.2"/>
 <path d="M681.8 319.5 V341 M679.6 341.2 H684"/>
 <path d="M669 319.5 V326.5"/>
 <circle cx="669" cy="328.1" r="1.6"/>
 <circle cx="675.6" cy="331.5" r="1.9"/><circle cx="667.3" cy="335.4" r="1.9"/><circle cx="674.5" cy="339.3" r="1.9"/>
 <circle cx="667.8" cy="346" r="1.9"/><circle cx="672.8" cy="352.7" r="2.6"/><circle cx="681.8" cy="356" r="1.7"/>
 <circle cx="679.5" cy="346.5" r="1.9"/><circle cx="687.4" cy="331.5" r="1.9"/><circle cx="692.9" cy="328.1" r="1.9"/>
 <circle cx="688.5" cy="339.3" r="1.9"/><circle cx="695.2" cy="337" r="1.9"/><circle cx="693.5" cy="344.3" r="1.9"/>
 <circle cx="687.9" cy="350.4" r="1.9"/><circle cx="694.6" cy="354.3" r="2.6"/>
</g>

<g fill="none" stroke="#585858" stroke-width="0.95"><path d="M645 422.5 C640.0 385.3 674.6 385.3 669.6 422.5M645 422.5 C640.0 459.7 674.6 459.7 669.6 422.5M645 422.5 C643.5 400.8 671.1 400.8 669.6 422.5M645 422.5 C643.5 444.2 671.1 444.2 669.6 422.5M645 422.5 C645.5 408.8 669.1 408.8 669.6 422.5M645 422.5 C645.5 436.2 669.1 436.2 669.6 422.5M645 422.5 C647.0 415.0 667.6 415.0 669.6 422.5M645 422.5 C647.0 430.0 667.6 430.0 669.6 422.5M645 422.5 H669.6M645 422.5 Q622 399 613.2 389.8M669.6 422.5 Q692.6 399 701.4 389.8M645 422.5 Q634 404 635.2 389.8M669.6 422.5 Q680.6 404 679.4 389.8M645 422.5 Q630 418.5 612.5 415.1M669.6 422.5 Q684.6 418.5 702.1 415.1M645 422.5 Q630 426.5 612.5 430M669.6 422.5 Q684.6 426.5 702.1 430M645 422.5 Q634 441 635.2 455.3M669.6 422.5 Q680.6 441 679.4 455.3M645 422.5 Q622 446 613.2 455.3M669.6 422.5 Q692.6 446 701.4 455.3"/></g>
<path fill="#585858" d="M659.6 394.6L655.5 396.0L655.5 393.2ZM659.6 450.4L655.5 451.8L655.5 449.0ZM659.6 406.2L655.5 407.6L655.5 404.8ZM659.6 438.8L655.5 440.2L655.5 437.4ZM659.6 412.2L655.5 413.6L655.5 410.8ZM659.6 432.8L655.5 434.2L655.5 431.4ZM659.6 422.5L655.5 423.9L655.5 421.1ZM617.5 394.2L621.2 396.5L619.1 398.3ZM635.3 395.7L637.0 399.7L634.3 400.0ZM616.7 416.5L620.8 415.1L620.8 417.9ZM616.7 428.5L620.8 427.1L620.8 429.9ZM635.3 449.3L634.3 445.0L637.0 445.3ZM617.5 450.8L619.1 446.7L621.2 448.5ZM694.0 397.8L695.6 393.7L697.7 395.5ZM678.8 400.3L677.8 396.0L680.5 396.3ZM697.8 416.5L693.7 417.9L693.7 415.1ZM697.8 428.5L693.7 429.9L693.7 427.1ZM678.8 444.7L680.5 448.7L677.8 449.0ZM694.0 447.2L697.7 449.5L695.6 451.3Z"/>
<defs><radialGradient id="rg" cx="0.4" cy="0.4" r="0.6"><stop offset="0" stop-color="#e06060"/><stop offset="1" stop-color="#901818"/></radialGradient><radialGradient id="bg" cx="0.4" cy="0.4" r="0.6"><stop offset="0" stop-color="#6a7ae8"/><stop offset="1" stop-color="#1a20a0"/></radialGradient></defs>
<circle cx="645" cy="422.5" r="4.8" fill="url(#rg)"/><circle cx="669.6" cy="422.5" r="4.8" fill="url(#bg)"/>
<path fill="none" stroke="#92cec6" stroke-width="1.6" d="M559.0 489.0 L559.3 485.8 L559.7 482.8 L560.0 480.0 L560.3 477.7 L560.7 475.9 L561.0 474.6 L561.3 473.8 L561.7 473.6 L562.0 474.0 L562.3 475.0 L562.7 476.6 L563.0 478.6 L563.3 481.1 L563.7 484.0 L564.0 487.1 L564.3 490.4 L564.7 493.8 L565.0 497.1 L565.3 500.3 L565.7 503.3 L566.0 505.9 L566.3 508.2 L566.7 510.0 L567.0 511.2 L567.3 511.9 L567.7 512.0 L568.0 511.4 L568.3 510.4 L568.7 508.7 L569.0 506.6 L569.3 504.1 L569.7 501.2 L570.0 498.0 L570.3 494.7 L570.7 491.3 L571.0 488.0 L571.3 484.8 L571.7 481.9 L572.0 479.3 L572.3 477.1 L572.7 475.4 L573.0 474.2 L573.3 473.7 L573.7 473.7 L574.0 474.3 L574.3 475.5 L574.7 477.2 L575.0 479.4 L575.3 482.0 L575.7 484.9 L576.0 488.1 L576.3 491.5 L576.7 494.8 L577.0 498.2 L577.3 501.3 L577.7 504.2 L578.0 506.7 L578.3 508.8 L578.7 510.4 L579.0 511.5 L579.3 512.0 L579.7 511.9 L580.0 511.2 L580.3 509.9 L580.7 508.1 L581.0 505.8 L581.3 503.2 L581.7 500.2 L582.0 496.9 L582.3 493.6 L582.7 490.2 L583.0 486.9 L583.3 483.8 L583.7 481.0 L584.0 478.5 L584.3 476.5 L584.7 475.0 L585.0 474.0 L585.3 473.6 L585.7 473.8 L586.0 474.6 L586.3 476.0 L586.7 477.8 L587.0 480.2 L587.3 482.9 L587.7 485.9 L588.0 489.2 L588.3 492.5 L588.7 495.9 L589.0 499.2 L589.4 502.3 L589.7 505.0 L590.0 507.4 L590.4 509.4 L590.7 510.8 L591.0 511.7 L591.4 512.0 L591.7 511.7 L592.0 510.8 L592.4 509.4 L592.7 507.4 L593.0 505.0 L593.4 502.2 L593.7 499.2 L594.0 495.9 L594.4 492.5 L594.7 489.2 L595.0 485.9 L595.4 482.9 L595.7 480.2 L596.0 477.8 L596.4 475.9 L596.7 474.6 L597.0 473.8 L597.4 473.6 L597.7 474.0 L598.0 475.0 L598.4 476.5 L598.7 478.5 L599.0 481.0 L599.4 483.8 L599.7 487.0 L600.0 490.2 L600.4 493.6 L600.7 497.0 L601.0 500.2 L601.4 503.2 L601.7 505.8 L602.0 508.1 L602.4 509.9 L602.7 511.2 L603.0 511.9 L603.4 512.0 L603.7 511.5 L604.0 510.4 L604.4 508.8 L604.7 506.7 L605.0 504.2 L605.4 501.3 L605.7 498.1 L606.0 494.8 L606.4 491.4 L606.7 488.1 L607.0 484.9 L607.4 482.0 L607.7 479.4 L608.0 477.2 L608.4 475.5 L608.7 474.3 L609.0 473.7 L609.4 473.7 L609.7 474.3 L610.0 475.4 L610.4 477.1 L610.7 479.3 L611.0 481.9 L611.4 484.8 L611.7 488.0 L612.0 491.3 L612.4 494.7 L612.7 498.0 L613.0 501.2 L613.4 504.1 L613.7 506.6 L614.0 508.7 L614.4 510.4 L614.7 511.5 L615.0 512.0 L615.4 511.9 L615.7 511.2 L616.0 510.0 L616.4 508.2 L616.7 505.9 L617.0 503.3 L617.4 500.3 L617.7 497.1 L618.0 493.7 L618.4 490.4 L618.7 487.1 L619.0 483.9 L619.4 481.1 L619.7 478.6"/>
<g fill="none" stroke="#b8b8b8" stroke-width="1.1">
 <path d="M626.5 478.6 L620.8 490 V529 Q620.8 532.6 624.5 532.6 H645 Q648.7 532.6 648.7 529 V522.4 L664.3 517.4 L680 521.8 V529 Q680 532.6 683.7 532.6 H704.5 Q708 532.6 708 529 V491 L702.2 478.6"/>
 <path d="M643.5 478.6 L648.3 489.5 V502.5 L664.3 506.8 L680.2 503 V489.5 L685.7 478.6"/>
 <path d="M621 491.8 H648.5 M680 491.8 H708" stroke="#d8d8d8"/>
 <path d="M664.3 493.5 V517.5" stroke="#c8c8c8"/>
 <path d="M638.5 527 L648.7 530.2 H656 M672.5 530.2 H680 L690.5 527" stroke="#a8a8a8"/>
</g>
<g stroke="#7a7a7a" stroke-width="0.9" fill="none"><path d="M634.6 495.5 V471.5 H661.5 M666.5 471.5 H693.7 V495.5"/><path d="M661.5 468.5 V474.5 M664.5 469.8 V473.2"/></g>
<path d="M626 478.3 H643.5 M685.6 478.3 H702.4" stroke="#4a4a4a" stroke-width="1.5"/>
<rect x="631.9" y="495.6" width="6.2" height="32.4" fill="#a8161a"/>
<rect x="690.5" y="495.6" width="6.3" height="32.4" fill="#1d9fd0"/>
<g stroke="#b0b0b0" stroke-width="1.3"><path d="M656.5 492.6 H672 M657 530.4 H671.5"/></g><g stroke="#dddddd" stroke-width="0.8"><path d="M626 496 H630 M640 498 H645 M651 505 H656 M673 509 H678 M684 496 H688 M699 499 H704 M626 529 H630 M684 523 H688"/></g>
</svg>
</body></html>
